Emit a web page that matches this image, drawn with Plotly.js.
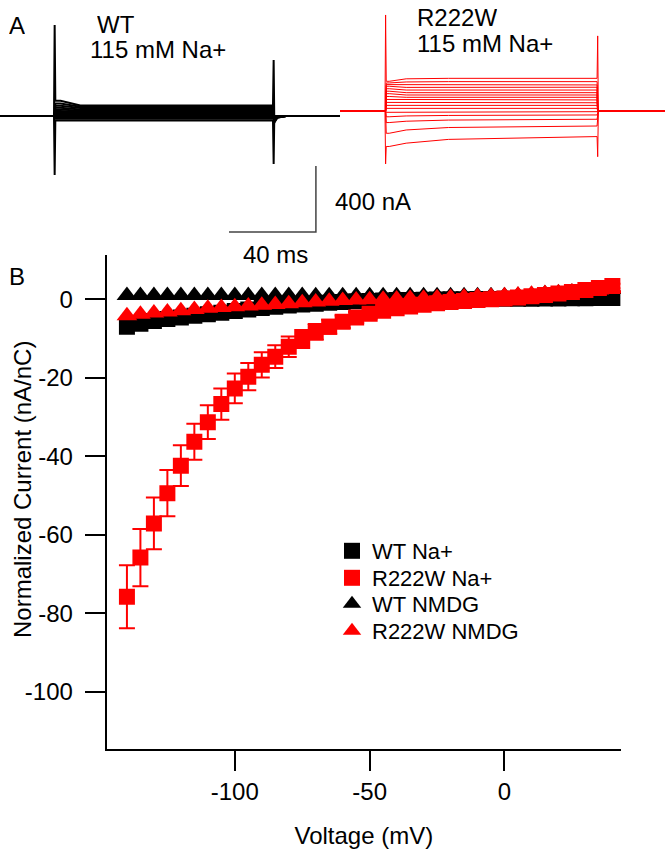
<!DOCTYPE html>
<html>
<head>
<meta charset="utf-8">
<script src="https://cdn.plot.ly/plotly-3.0.1.min.js"></script>
<style>html,body{margin:0;padding:0;background:#fff;}#chart{width:666px;height:857px;}</style>
</head>
<body>
<div id="chart"></div>
<script>
// ---------- Panel B data (I-V curves) ----------
const voltage = [-140,-135,-130,-125,-120,-115,-110,-105,-100,-95,-90,-85,-80,-75,-70,-65,-60,-55,-50,-45,-40,-35,-30,-25,-20,-15,-10,-5,0,5,10,15,20,25,30,35,40];
const wtNa = [-7.0,-6.2,-5.5,-5.0,-4.6,-4.2,-3.8,-3.4,-3.0,-2.6,-2.2,-1.9,-1.6,-1.3,-1.1,-0.9,-0.7,-0.5,-0.4,-0.3,-0.2,-0.15,-0.1,-0.05,0,0.03,0.06,0.1,0.12,0.15,0.18,0.2,0.23,0.26,0.3,0.33,0.36];
const r222wNa = [-75.8,-65.8,-57.1,-49.4,-42.4,-36.3,-31.3,-26.7,-22.7,-19.7,-16.7,-14.6,-12.1,-10.1,-8.3,-7.0,-5.7,-4.6,-3.7,-2.9,-2.3,-1.8,-1.4,-1.0,-0.7,-0.4,-0.2,0.0,0.2,0.5,0.8,1.1,1.5,1.9,2.4,2.9,3.4];
const r222wNaErr = [8.0,7.3,6.6,5.9,5.2,4.6,4.3,4.0,3.8,3.5,3.2,2.9,2.6,2.3,2.0,1.8,1.6,1.4,1.2,1.0,0.9,0.8,0.7,0.6,0.5,0.4,0.3,0.3,0.3,0.3,0.3,0.4,0.4,0.5,0.5,0.6,0.6];
const wtNmdg = [1.0,1.0,1.0,1.0,1.0,1.0,1.0,1.0,1.0,1.0,1.0,1.0,1.0,1.0,0.9,0.9,0.9,0.9,0.9,0.9,0.9,0.9,0.9,0.9,0.9,0.9,0.9,0.9,0.9,1.0,1.2,1.4,1.6,1.8,2.0,2.2,2.5];
const r222wNmdg = [-4.2,-3.8,-3.5,-3.2,-2.9,-2.6,-2.3,-2.1,-1.9,-1.7,-1.5,-1.3,-1.1,-0.9,-0.7,-0.5,-0.3,-0.2,-0.1,0.0,0.1,0.2,0.3,0.4,0.5,0.6,0.7,0.8,0.9,1.1,1.3,1.5,1.7,1.9,2.1,2.4,2.7];
const seriesNames = ['WT Na+','R222W Na+','WT NMDG','R222W NMDG'];
const yTicks = [0,-20,-40,-60,-80,-100];
const xTicks = [-100,-50,0];

// ---------- Panel A data (current traces) ----------
// WT sweeps: time points (ms) and currents (nA)
const wtTime = [-25,0,0.3,0.6,3,12,100,100.3,100.6,102,106,131];
const wtSpikeOn = [551,-357];
const wtSpikeOff = [339,-291];
const wtLevels3ms = [92,76,62,50,40,30,20,11,2,-7,-16,-27];
const wtLevels100ms = [64,56,48,40,32,24,16,8,0,-8,-16,-27];
const wtTail2ms = [-40,-35,-30,-25,-20,-15,-10,-8,-5,-3,-2,0];
const wtTail6ms = [-10,-9,-8,-7,-6,-5,-3,-2,-1,-1,0,0];
// R222W sweeps
const rwTime = [-21,0,0.3,0.6,2,10,30,100,100.3,100.6,102,132];
const rwSpikeOn = [582,-321];
const rwSpikeOff = [455,-277];
const rwAt2ms = [180,170,160,150,135,120,105,88,70,52,34,16,-8,-35,-70,-135,-215];
const rwAt10ms = [195,176,157,143,127,111,97,83,67,50,34,16,-6,-30,-62,-115,-195];
const rwAt30ms = [198,178,158,144,127,111,97,83,67,50,34,16,-5,-27,-55,-100,-172];
const rwAt100ms = [198,178,158,144,127,111,97,83,67,50,34,16,-4,-24,-50,-91,-155];
const scaleBarTime = [79.9,119.6,119.6]; // 40 ms
const scaleBarCurrent = [-703,-703,-303]; // 400 nA

const traces = [];
// WT sweeps
for (let i = 0; i < wtLevels100ms.length; i++) {
  const last = wtLevels100ms.length - 1;
  const on = i === 0 ? wtSpikeOn[0] : (i === last ? wtSpikeOn[1] : 0);
  const off = i === 0 ? wtSpikeOff[0] : (i === last ? wtSpikeOff[1] : 0);
  traces.push({
    x: wtTime,
    y: [0, 0, on, wtLevels3ms[i], wtLevels3ms[i], wtLevels100ms[i], wtLevels100ms[i], off, wtTail2ms[i], wtTail6ms[i], 0, 0],
    xaxis: 'x2', yaxis: 'y2', mode: 'lines', line: {color: '#000', width: 2}, showlegend: false, hoverinfo: 'skip'
  });
}
// R222W sweeps
for (let i = 0; i < rwAt100ms.length; i++) {
  const last = rwAt100ms.length - 1;
  const on = i === 0 ? rwSpikeOn[0] : (i === last ? rwSpikeOn[1] : 0);
  const off = i === 0 ? rwSpikeOff[0] : (i === last ? rwSpikeOff[1] : 0);
  traces.push({
    x: rwTime,
    y: [0, 0, on, rwAt2ms[i], rwAt2ms[i], rwAt10ms[i], rwAt30ms[i], rwAt100ms[i], off, 0, 0, 0],
    xaxis: 'x3', yaxis: 'y3', mode: 'lines', line: {color: '#ff0000', width: 1}, showlegend: false, hoverinfo: 'skip'
  });
}
// scale bars
traces.push({x: scaleBarTime, y: scaleBarCurrent, xaxis: 'x2', yaxis: 'y2', mode: 'lines',
  line: {color: '#444', width: 1.5}, showlegend: false, hoverinfo: 'skip'});

// I-V traces
traces.push({x: voltage, y: wtNa, name: seriesNames[0], mode: 'markers', legend: 'legend',
  marker: {symbol: 'square', size: 16, color: '#000'}});
traces.push({x: voltage, y: wtNmdg, name: seriesNames[2], mode: 'markers', legend: 'legend3',
  marker: {symbol: 'triangle-up', size: 18, color: '#000'}});
traces.push({x: voltage, y: r222wNmdg, name: seriesNames[3], mode: 'markers', legend: 'legend4',
  marker: {symbol: 'triangle-up', size: 18, color: '#ff0000'}});
traces.push({x: voltage, y: r222wNa, name: seriesNames[1], mode: 'markers', legend: 'legend2',
  marker: {symbol: 'square', size: 16, color: '#ff0000'},
  error_y: {type: 'data', array: r222wNaErr, visible: true, color: '#ff0000', thickness: 2, width: 8}});

const W = 666, H = 857;
const font = {family: 'Liberation Sans, Arial, sans-serif', color: '#000', size: 24};
function legendAt(yPx) {
  return {x: 332/W, y: 1 - yPx/H, xanchor: 'left', yanchor: 'middle', font: {size: 22},
          bgcolor: 'rgba(0,0,0,0)', itemsizing: 'trace'};
}
function label(text, xPx, yPx, anchor, size) {
  return {text: text, x: xPx/W, y: 1 - yPx/H, xref: 'paper', yref: 'paper', xanchor: anchor,
          yanchor: 'middle', showarrow: false, font: {size: size}, height: 26};
}
const layout = {
  width: W, height: H,
  margin: {l: 0, r: 0, t: 0, b: 0},
  paper_bgcolor: '#fff', plot_bgcolor: 'rgba(0,0,0,0)',
  font: font,
  showlegend: true,
  legend: legendAt(551),
  legend2: legendAt(578),
  legend3: legendAt(604),
  legend4: legendAt(631),
  xaxis: {
    domain: [106.7/W, 621/W], range: [-147.5, 43.2], anchor: 'y',
    tickmode: 'array', tickvals: xTicks, ticktext: xTicks.map(String),
    ticks: 'outside', ticklen: 20, tickwidth: 2, tickcolor: '#000',
    showline: true, linewidth: 2, linecolor: '#000', showgrid: false, zeroline: false,
    tickfont: {size: 24}, automargin: false,
    title: {text: 'Voltage (mV)', font: {size: 24}, standoff: 23}
  },
  yaxis: {
    domain: [1 - 749/H, 1 - 255/H], range: [-114.6, 11.3], anchor: 'x',
    tickmode: 'array', tickvals: yTicks, ticktext: yTicks.map(String),
    ticks: 'outside', ticklen: 20, tickwidth: 2, tickcolor: '#000',
    showline: true, linewidth: 2, linecolor: '#000', showgrid: false, zeroline: false,
    tickfont: {size: 24}, automargin: false, ticklabelstandoff: 7
  },
  xaxis2: {domain: [0, 340/W], range: [-24.66, 130.6], anchor: 'y2', visible: false},
  yaxis2: {domain: [1 - 240/H, 1], range: [-751.5, 703], anchor: 'x2', visible: false},
  xaxis3: {domain: [340/W, 1], range: [-21.2, 132.5], anchor: 'y3', visible: false},
  yaxis3: {domain: [1 - 240/H, 1], range: [-781.8, 672.7], anchor: 'x3', visible: false},
  annotations: [
    label('A', 7, 25, 'left', 24),
    label('WT', 95, 24, 'left', 24),
    label('115 mM Na+', 88, 49, 'left', 24),
    label('R222W', 415, 17, 'left', 24),
    label('115 mM Na+', 415, 43, 'left', 24),
    label('400 nA', 333, 201, 'left', 24),
    label('40 ms', 275, 254, 'center', 24),
    label('B', 7, 276, 'left', 24),
    {text: 'Normalized Current (nA/nC)', x: 22/W, y: 1 - 490/H, xref: 'paper', yref: 'paper',
     xanchor: 'center', yanchor: 'middle', textangle: -90, showarrow: false, font: {size: 24}}
  ]
};
Plotly.newPlot('chart', traces, layout, {displayModeBar: false, staticPlot: true});
</script>
</body>
</html>
